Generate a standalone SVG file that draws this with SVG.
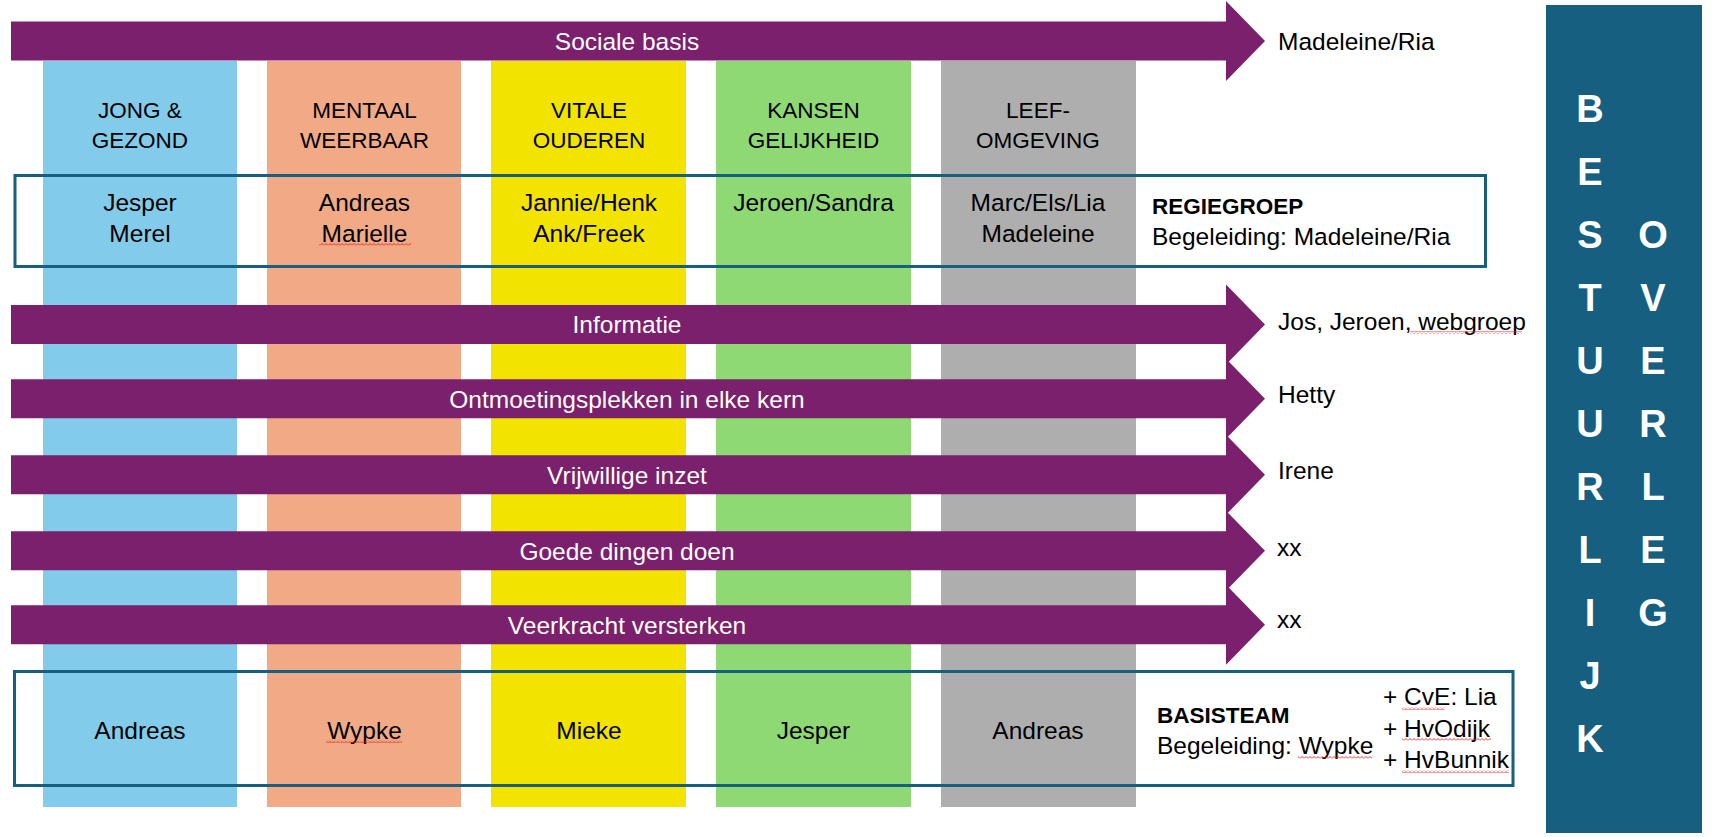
<svg xmlns="http://www.w3.org/2000/svg" width="1713" height="837" viewBox="0 0 1713 837">
<style>
  .txt{font-family:"Liberation Sans",Arial,sans-serif;fill:#000}
  .hdr{font-size:22.5px;text-anchor:middle}
  .nm{font-size:24.5px;text-anchor:middle}
  .lbl{font-size:24.5px}
  .arr-t{font-family:"Liberation Sans",Arial,sans-serif;font-size:24.5px;fill:#fff;text-anchor:middle}
  .bold{font-weight:bold;font-size:22.5px}
  .arrow{fill:#7A206D}
  .frame{fill:none;stroke:#165F80;stroke-width:3}
  .bl{font-family:"Liberation Sans",Arial,sans-serif;font-weight:bold;font-size:38px;fill:#fff;text-anchor:middle}
  .sq{fill:url(#squiggle)}
</style>
<defs>
  <path id="arrowShape" d="M11,-19.5 H1226 V-40 L1265,0 L1226,40 V19.5 H11 Z"/>
  <pattern id="squiggle" width="4" height="3" patternUnits="userSpaceOnUse">
    <polyline points="0,2.5 2,0.5 4,2.5" fill="none" stroke="#E02020" stroke-width="0.9"/>
  </pattern>
</defs>
<rect width="1713" height="837" fill="#fff"/>

<g id="columns">
  <g id="col-jong"><rect x="43" y="61" width="194" height="746" fill="#83CBEB"/></g>
  <g id="col-mentaal"><rect x="267" y="61" width="194" height="746" fill="#F1AA85"/></g>
  <g id="col-vitale"><rect x="491" y="61" width="195" height="746" fill="#F2E400"/></g>
  <g id="col-kansen"><rect x="716" y="61" width="195" height="746" fill="#8FD974"/></g>
  <g id="col-leef"><rect x="941" y="61" width="195" height="746" fill="#AEAEAE"/></g>
</g>

<g id="connectors">
  <use href="#arrowShape" class="arrow" transform="translate(0,41)"/>
  <use href="#arrowShape" class="arrow" transform="translate(0,324.5)"/>
  <use href="#arrowShape" class="arrow" transform="translate(0,398.8)"/>
  <use href="#arrowShape" class="arrow" transform="translate(0,474.7)"/>
  <use href="#arrowShape" class="arrow" transform="translate(0,550.7)"/>
  <use href="#arrowShape" class="arrow" transform="translate(0,624.8)"/>
</g>

<g id="arrow-labels">
  <text class="arr-t" x="627" y="50">Sociale basis</text>
  <text class="arr-t" x="627" y="333">Informatie</text>
  <text class="arr-t" x="627" y="407.5">Ontmoetingsplekken in elke kern</text>
  <text class="arr-t" x="627" y="483.5">Vrijwillige inzet</text>
  <text class="arr-t" x="627" y="559.5">Goede dingen doen</text>
  <text class="arr-t" x="627" y="633.5">Veerkracht versterken</text>
</g>

<g id="right-labels" class="txt lbl">
  <text x="1278" y="50">Madeleine/Ria</text>
  <text x="1278" y="330">Jos, Jeroen, webgroep</text>
  <text x="1278" y="403">Hetty</text>
  <text x="1278" y="479">Irene</text>
  <text x="1277" y="556">xx</text>
  <text x="1277" y="628">xx</text>
</g>

<g id="headers" class="txt hdr">
  <text x="140" y="118">JONG &amp;</text><text x="140" y="148">GEZOND</text>
  <text x="364.5" y="118">MENTAAL</text><text x="364.5" y="148">WEERBAAR</text>
  <text x="589" y="118">VITALE</text><text x="589" y="148">OUDEREN</text>
  <text x="813.5" y="118">KANSEN</text><text x="813.5" y="148">GELIJKHEID</text>
  <text x="1038" y="118">LEEF-</text><text x="1038" y="148">OMGEVING</text>
</g>

<g id="regiegroep">
  <rect class="frame" x="15" y="175.5" width="1470.5" height="91"/>
  <g class="txt nm">
    <text x="140" y="211">Jesper</text><text x="140" y="242">Merel</text>
    <text x="364.5" y="211">Andreas</text><text x="364.5" y="242">Marielle</text>
    <text x="589" y="211">Jannie/Henk</text><text x="589" y="242">Ank/Freek</text>
    <text x="813.5" y="211">Jeroen/Sandra</text>
    <text x="1038" y="211">Marc/Els/Lia</text><text x="1038" y="242">Madeleine</text>
  </g>
  <text class="txt bold" x="1152" y="214">REGIEGROEP</text>
  <text class="txt lbl" x="1152" y="245">Begeleiding: Madeleine/Ria</text>
</g>

<g id="basisteam">
  <rect class="frame" x="14.5" y="671.5" width="1498.5" height="114"/>
  <g class="txt nm">
    <text x="140" y="739">Andreas</text>
    <text x="364.5" y="739">Wypke</text>
    <text x="589" y="739">Mieke</text>
    <text x="813.5" y="739">Jesper</text>
    <text x="1038" y="739">Andreas</text>
  </g>
  <text class="txt bold" x="1157" y="723">BASISTEAM</text>
  <text class="txt lbl" x="1157" y="754">Begeleiding: Wypke</text>
  <text class="txt lbl" x="1383" y="705">+ CvE: Lia</text>
  <text class="txt lbl" x="1383" y="737">+ HvOdijk</text>
  <text class="txt lbl" x="1383" y="768">+ HvBunnik</text>
</g>

<g id="spellcheck-marks">
  <rect class="sq" x="319" y="243" width="92" height="3"/>
  <rect class="sq" x="1410" y="331" width="112" height="3"/>
  <rect class="sq" x="326" y="740" width="76" height="3"/>
  <rect class="sq" x="1298" y="756" width="74" height="3"/>
  <rect class="sq" x="1402" y="707" width="43" height="3"/>
  <rect class="sq" x="1402" y="738" width="89" height="3"/>
  <rect class="sq" x="1402" y="770" width="107" height="3"/>
</g>

<g id="bestuurlijk-overleg">
  <rect x="1546" y="5" width="156" height="828" fill="#165F80"/>
  <g class="bl">
    <text x="1590" y="122">B</text>
    <text x="1590" y="185">E</text>
    <text x="1590" y="248">S</text>
    <text x="1590" y="311">T</text>
    <text x="1590" y="374">U</text>
    <text x="1590" y="437">U</text>
    <text x="1590" y="500">R</text>
    <text x="1590" y="563">L</text>
    <text x="1590" y="626">I</text>
    <text x="1590" y="689">J</text>
    <text x="1590" y="752">K</text>
    <text x="1653" y="248">O</text>
    <text x="1653" y="311">V</text>
    <text x="1653" y="374">E</text>
    <text x="1653" y="437">R</text>
    <text x="1653" y="500">L</text>
    <text x="1653" y="563">E</text>
    <text x="1653" y="626">G</text>
  </g>
</g>
</svg>
